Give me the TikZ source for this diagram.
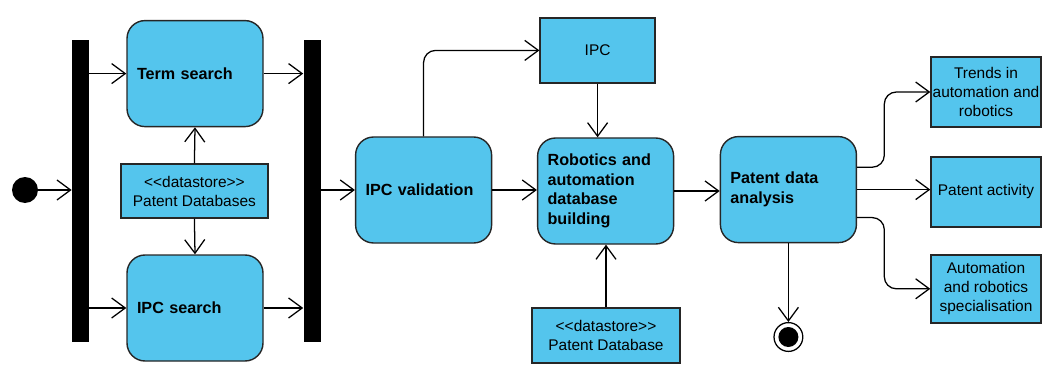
\documentclass[tikz,border=0pt]{standalone}
\usepackage{fontspec}
\setmainfont{Liberation Sans}
\usepackage{tikz}
\usetikzlibrary{calc}
\usetikzlibrary{arrows.meta}

\definecolor{actblue}{RGB}{84,197,237}

\begin{document}
\begin{tikzpicture}[
        actnode/.style={rectangle, rounded corners=0.45cm, draw=black!85, fill=actblue, line width=1pt, align=left, text width=2.9cm, inner xsep=0.25cm, minimum height=2.65cm, font=\fontsize{11.5}{14}\selectfont\bfseries},
        objnode/.style={rectangle, draw=black!85, fill=actblue, line width=1pt, align=center, inner xsep=1pt, font=\fontsize{11}{13.5}\selectfont},
        barnode/.style={rectangle, fill=black, minimum width=0.425cm, minimum height=7.55cm, inner sep=0pt},
        flow/.style={-{Straight Barb[length=3.4mm,width=5mm]}, line width=0.9pt, rounded corners=0.3cm}
        ]
            \useasboundingbox (0,0) rectangle (26.075,9.55);

            \node[circle, fill=black, minimum size=0.65cm, inner sep=0pt] (start) at (0.625,4.8) {};
            \node[barnode] (fork) at (2.01,4.78) {};
            \node[actnode] (term) at (4.875,7.71) {Term search};
            \node[objnode, minimum width=3.675cm, minimum height=1.35cm] (dbs) at (4.86,4.775) {<{}<datastore>{}>\\Patent Databases};
            \node[actnode] (ipcs) at (4.875,1.85) {IPC search};
            \node[barnode] (join) at (7.8,4.78) {};
            \node[actnode] (valid) at (10.59,4.8) {IPC validation};
            \node[objnode, minimum width=2.875cm, minimum height=1.625cm] (ipc) at (14.94,8.29) {IPC};
            \node[actnode] (build) at (15.14,4.775) {Robotics and\\automation\\database\\building};
            \node[objnode, minimum width=3.7cm, minimum height=1.375cm] (pdb) at (15.15,1.16) {<{}<datastore>{}>\\Patent Database};
            \node[actnode] (anal) at (19.71,4.81) {Patent data\\analysis};
            \node[objnode, minimum width=2.75cm, minimum height=1.75cm] (trend) at (24.65,7.25) {Trends in\\automation and\\robotics};
            \node[objnode, minimum width=2.75cm, minimum height=1.75cm] (activ) at (24.65,4.75) {Patent activity};
            \node[objnode, minimum width=2.75cm, minimum height=1.7cm] (spec) at (24.65,2.33) {Automation\\and robotics\\specialisation};
            \node[circle, draw=black, line width=0.9pt, fill=white, minimum size=0.72cm, inner sep=0pt] (endring) at (19.71,1.125) {};
            \node[circle, fill=black, minimum size=0.5cm, inner sep=0pt] (enddot) at (endring) {};

            \draw[flow] (start) -- (start -| fork.west);
            \draw[flow] (fork.east |- term.west) -- (term.west);
            \draw[flow] (fork.east |- ipcs.west) -- (ipcs.west);
            \draw[flow] (dbs.north) -- (term.south);
            \draw[flow] (dbs.south) -- (ipcs.north);
            \draw[flow] (term.east) -- (term.east -| join.west);
            \draw[flow] (ipcs.east) -- (ipcs.east -| join.west);
            \draw[flow] (join.east |- valid.west) -- (valid.west);
            \draw[flow] (valid.north) |- (ipc.west);
            \draw[flow] (ipc.south) -- (ipc.south |- build.north);
            \draw[flow] (pdb.north) -- (pdb.north |- build.south);
            \draw[flow] (valid.east) -- (valid.east -| build.west);
            \draw[flow] (build.east) -- (build.east -| anal.west);
            \draw[flow] ([yshift=0.56cm]anal.east) -- ++(0.68,0) |- (trend.west);
            \draw[flow] (anal.east) -- (anal.east -| activ.west);
            \draw[flow] ([yshift=-0.7cm]anal.east) -- ++(0.68,0) |- (spec.west);
            \draw[flow] (anal.south) -- (endring.north);

        \end{tikzpicture}
\end{document}
